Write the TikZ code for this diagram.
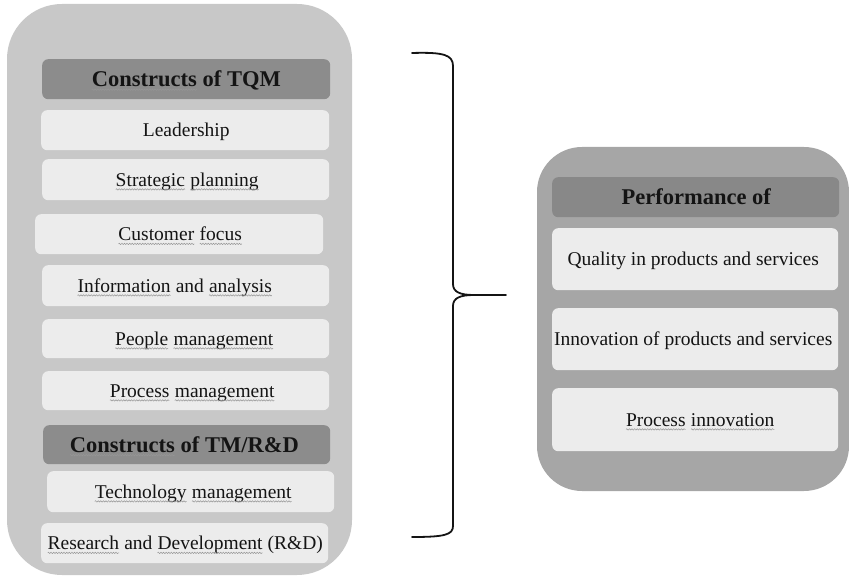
\documentclass[tikz,border=0pt]{standalone}
\usepackage{fontspec}
\setmainfont{Liberation Serif}
\usetikzlibrary{decorations.pathmorphing}
\definecolor{outerL}{RGB}{200,200,200}
\definecolor{outerR}{RGB}{166,166,166}
\definecolor{headL}{RGB}{140,140,140}
\definecolor{headR}{RGB}{136,136,136}
\definecolor{itemF}{RGB}{236,236,236}
\definecolor{sqcol}{RGB}{150,150,150}
\definecolor{inkc}{RGB}{20,20,20}
\newcommand\sq[1]{\tikz[baseline=(w.base), x=1pt, y=1pt]{\node[inner sep=0pt, outer sep=0pt, anchor=base, draw=none, fill=none] (w) at (0,0) {#1};\draw[sqcol, line width=0.5pt, decorate, decoration={snake, amplitude=0.7pt, segment length=2.6pt}] ([yshift=-3.2pt]w.base west) -- ([yshift=-3.2pt]w.base east);}}
\tikzset{
  itembox/.style={draw=none, fill=itemF, rounded corners=6pt, anchor=north west, inner sep=0pt},
  headbox/.style={draw=none, rounded corners=6pt, anchor=north west, inner sep=0pt},
  itemtxt/.style={anchor=base, inner sep=0pt, text=inkc, font=\fontsize{19.5}{22}\selectfont, yshift=-6.5pt},
  headtxt/.style={anchor=base, inner sep=0pt, text=inkc, font=\fontsize{22.5}{26}\selectfont\bfseries, yshift=-7.3pt},
}
\begin{document}
\begin{tikzpicture}[x=1pt, y=-1pt]
\useasboundingbox (0,0) rectangle (849,577);
% containers
\fill[outerL, rounded corners=55pt] (7,4) rectangle (352,575);
\fill[outerR, rounded corners=45pt] (537,147) rectangle (849,491);
% left boxes
\node[headbox, fill=headL, minimum width=288pt, minimum height=40pt] (h1) at (42,59) {};
\node[itembox, minimum width=288pt, minimum height=40pt] (lead) at (41,110) {};
\node[itembox, minimum width=287pt, minimum height=41pt] (strat) at (42,159) {};
\node[itembox, minimum width=288pt, minimum height=40pt] (cust) at (35,214) {};
\node[itembox, minimum width=287pt, minimum height=41pt] (info) at (42,265) {};
\node[itembox, minimum width=287pt, minimum height=39pt] (people) at (42,319) {};
\node[itembox, minimum width=287pt, minimum height=39pt] (proc) at (42,371) {};
\node[headbox, fill=headL, minimum width=287pt, minimum height=39pt] (h2) at (43,425) {};
\node[itembox, minimum width=287pt, minimum height=41pt] (tech) at (47,471) {};
\node[itembox, minimum width=287pt, minimum height=40pt] (rnd) at (41,523) {};
% left texts
\node[headtxt] (t-h1) at ([xshift=0pt]h1.center) {\sq{Constructs} of TQM};
\node[itemtxt] (t-lead) at ([xshift=1pt]lead.center) {Leadership};
\node[itemtxt] (t-strat) at ([xshift=1.5pt]strat.center) {\sq{Strategic} \sq{planning}};
\node[itemtxt] (t-cust) at ([xshift=1pt]cust.center) {\sq{Customer} \sq{focus}};
\node[itemtxt] (t-info) at ([xshift=-11pt]info.center) {\sq{Information} and \sq{analysis}};
\node[itemtxt] (t-people) at ([xshift=8.5pt]people.center) {\sq{People} \sq{management}};
\node[itemtxt] (t-proc) at ([xshift=6.5pt]proc.center) {\sq{Process} \sq{management}};
\node[headtxt] (t-h2) at ([xshift=-2.5pt]h2.center) {\sq{Constructs} of TM/R\&D};
\node[itemtxt] (t-tech) at ([xshift=2.5pt]tech.center) {\sq{Technology} \sq{management}};
\node[itemtxt] (t-rnd) at ([xshift=0.5pt]rnd.center) {\sq{Research} and \sq{Development} (R\&D)};
% right boxes
\node[headbox, fill=headR, minimum width=287pt, minimum height=40pt] (h3) at (552,177) {};
\node[itembox, minimum width=286pt, minimum height=62pt] (qual) at (552,228) {};
\node[itembox, minimum width=286pt, minimum height=62pt] (innov) at (552,308) {};
\node[itembox, minimum width=286pt, minimum height=63pt] (pinn) at (552,388) {};
\node[headtxt] (t-h3) at ([xshift=0.5pt]h3.center) {Performance of};
\node[itemtxt] (t-qual) at ([xshift=-2pt]qual.center) {Quality in products and services};
\node[itemtxt] (t-innov) at ([xshift=-2pt]innov.center) {Innovation of products and services};
\node[itemtxt] (t-pinn) at ([xshift=5pt]pinn.center) {\sq{Process} \sq{innovation}};
% brace
\coordinate (btop) at (412,53);
\coordinate (bbot) at (412,537);
\coordinate (btip) at (506,295);
\coordinate (bjoin) at (474,295);
\draw[line width=1.8pt, inkc, line cap=round]
  (btop) .. controls (444,52) and (453,55) .. (453,66) -- (453,284)
  .. controls (453,292) and (460,295) .. (bjoin) -- (btip);
\draw[line width=1.8pt, inkc, line cap=round]
  (bjoin) .. controls (460,295) and (453,298) .. (453,306) -- (453,526)
  .. controls (453,535) and (444,537) .. (bbot);
\end{tikzpicture}
\end{document}
